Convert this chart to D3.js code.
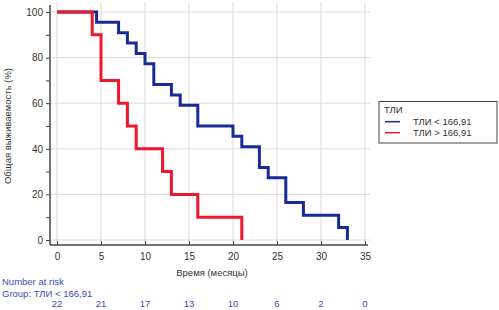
<!DOCTYPE html>
<html><head><meta charset="utf-8">
<script src="https://cdn.jsdelivr.net/npm/d3@7"></script>
<style>body{margin:0;background:#fff;} svg{display:block;font-family:"Liberation Sans",Arial,sans-serif;}</style>
</head><body>
<script>
const xTicks = [0,5,10,15,20,25,30,35];
const yTicks = [0,20,40,60,80,100];
const yMinorTicks = [10,30,50,70,90];
const blueTimes = [0,4.5,7,8,9,10,11,13,14,16,20,21,23,24,26,28,32,33];
const blueSurv  = [100,95.5,90.9,86.4,81.8,77.3,68.2,63.6,59.1,50,45.5,40.9,31.8,27.3,16.4,10.9,5.5,0];
const redTimes = [0,4,5,7,8,9,12,13,16,21];
const redSurv  = [100,90,70,60,50,40,30,20,10,0];
const atRisk = [22,21,17,13,10,6,2,0];
const seriesNames = ["ТЛИ < 166,91","ТЛИ > 166,91"];
const legendTitle = "ТЛИ";

const W=499,H=310;
const svg=d3.select("body").append("svg").attr("width",W).attr("height",H);
const x=d3.scaleLinear().domain([0,35]).range([57,365]);
const y=d3.scaleLinear().domain([0,100]).range([240,12]);
const gridC="#dcdcdc", axC="#444", txtC="#333";

// grid
svg.append("g").selectAll("line").data(xTicks).join("line")
  .attr("x1",d=>x(d)).attr("x2",d=>x(d)).attr("y1",2).attr("y2",245)
  .attr("stroke",gridC).attr("stroke-width",1);
svg.append("g").selectAll("line").data(yTicks).join("line")
  .attr("x1",50).attr("x2",370).attr("y1",d=>y(d)).attr("y2",d=>y(d))
  .attr("stroke",gridC).attr("stroke-width",1);

// axes
const yAxis=svg.append("g").attr("transform","translate(50,0)")
  .call(d3.axisLeft(y).tickValues(yTicks).tickSize(4).tickPadding(3).tickSizeOuter(0));
svg.append("g").attr("transform","translate(50,0)")
  .call(d3.axisLeft(y).tickValues(yMinorTicks).tickSize(4).tickFormat("").tickSizeOuter(0))
  .select(".domain").remove();
yAxis.select(".domain").remove();
svg.append("line").attr("x1",50).attr("x2",50).attr("y1",5).attr("y2",245).attr("stroke",axC).attr("stroke-width",1.5);
const xAxis=svg.append("g").attr("transform","translate(0,245)")
  .call(d3.axisBottom(x).tickValues(xTicks).tickSize(-4).tickPadding(8).tickSizeOuter(0));
xAxis.select(".domain").remove();
svg.append("line").attr("x1",50).attr("x2",368).attr("y1",245).attr("y2",245).attr("stroke",axC).attr("stroke-width",1.5);
svg.selectAll(".tick line").attr("stroke",axC);
svg.selectAll(".tick text").attr("fill",txtC).style("font-size","10px").style("font-family","Liberation Sans, Arial, sans-serif");

// curves
const line=d3.line().x(d=>x(d[0])).y(d=>y(d[1])).curve(d3.curveStepAfter);
const blue="#1a2a96", red="#f0162c";
svg.append("path").datum(blueTimes.map((t,i)=>[t,blueSurv[i]]))
  .attr("d",line).attr("fill","none").attr("stroke",blue).attr("stroke-width",3);
svg.append("path").datum(redTimes.map((t,i)=>[t,redSurv[i]]))
  .attr("d",line).attr("fill","none").attr("stroke",red).attr("stroke-width",3);

// axis titles
svg.append("text").attr("transform","translate(11,126) rotate(-90)").attr("text-anchor","middle")
  .attr("fill",txtC).style("font-size","9.5px").text("Общая выживаемость (%)");
svg.append("text").attr("x",212).attr("y",276).attr("text-anchor","middle")
  .attr("fill",txtC).style("font-size","9.5px").text("Время (месяцы)");

// legend
const lg=svg.append("g");
lg.append("rect").attr("x",379).attr("y",101.5).attr("width",118).attr("height",41.5)
  .attr("fill","#fff").attr("stroke","#444").attr("stroke-width",1);
lg.append("text").attr("x",384).attr("y",112.5).attr("fill",txtC).style("font-size","9.5px").text(legendTitle);
[blue,red].forEach((c,i)=>{
  const yy=121.7+i*11;
  lg.append("line").attr("x1",385).attr("x2",400).attr("y1",yy).attr("y2",yy).attr("stroke",c).attr("stroke-width",1.5);
  lg.append("text").attr("x",413).attr("y",yy+3.5).attr("fill",txtC).style("font-size","9.5px").text(seriesNames[i]);
});

// number at risk
const riskC="#3a4db0";
svg.append("text").attr("x",2).attr("y",285).attr("fill",riskC).style("font-size","9.5px").text("Number at risk");
svg.append("text").attr("x",2).attr("y",296.5).attr("fill",riskC).style("font-size","9.5px").text("Group: "+seriesNames[0]);
svg.append("g").selectAll("text").data(atRisk).join("text")
  .attr("x",(d,i)=>x(xTicks[i])).attr("y",307).attr("text-anchor","middle")
  .attr("fill",riskC).style("font-size","9.5px").text(d=>d);
</script>
</body></html>
